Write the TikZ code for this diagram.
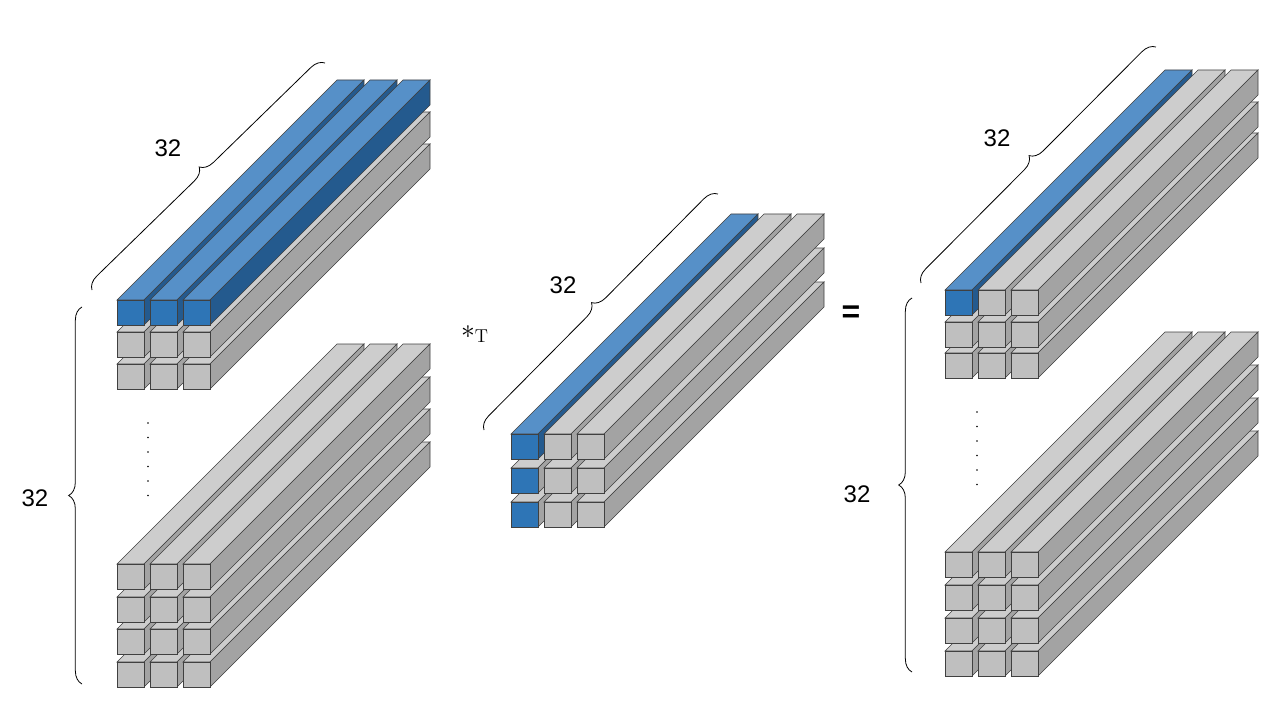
\documentclass[tikz,border=0pt]{standalone}
\usepackage{fontspec}
\setsansfont{Liberation Sans}
\usetikzlibrary{decorations.pathreplacing}
\definecolor{bf}{HTML}{2E75B6}
\definecolor{bt}{HTML}{5690C8}
\definecolor{bs}{HTML}{245A8E}
\definecolor{gf}{HTML}{BFBFBF}
\definecolor{gt}{HTML}{CDCDCD}
\definecolor{gs}{HTML}{A3A3A3}
\newcommand\onebar[5]{%
 \filldraw[fill=#4] (#1,#2) -- ++(220,-220) -- ++(27,0) -- ++(-220,220) -- cycle;
 \filldraw[fill=#5] (#1+27,#2) -- ++(220,-220) -- ++(0,25) -- ++(-220,220) -- cycle;
 \filldraw[fill=#3] (#1,#2) rectangle ++(27,25);}
\newcommand\grow[4]{% y x1 x2 x3 grey row
 \onebar{#2}{#1}{gf}{gt}{gs}\onebar{#3}{#1}{gf}{gt}{gs}\onebar{#4}{#1}{gf}{gt}{gs}}
\begin{document}
\begin{tikzpicture}[x=0.75pt,y=-0.75pt,line width=0.5pt,draw=black!75,
  brc/.style={draw=black,line width=0.6pt,decorate,decoration={brace,amplitude=10pt}},
  lbl/.style={font=\sffamily\fontsize{18}{20}\selectfont,text=black}]
\useasboundingbox (0,0) rectangle (1280,720);
% left block bottom group
\grow{662}{117}{150}{183}\grow{629}{117}{150}{183}\grow{597}{117}{150}{183}\grow{564}{117}{150}{183}
% left block top group
\grow{364}{117}{150}{183}\grow{332}{117}{150}{183}
\onebar{117}{300}{bf}{bt}{bs}\onebar{150}{300}{bf}{bt}{bs}\onebar{183}{300}{bf}{bt}{bs}
% middle
\onebar{511}{502}{bf}{gt}{gs}\onebar{544}{502}{gf}{gt}{gs}\onebar{577}{502}{gf}{gt}{gs}
\onebar{511}{468}{bf}{gt}{gs}\onebar{544}{468}{gf}{gt}{gs}\onebar{577}{468}{gf}{gt}{gs}
\onebar{511}{434}{bf}{bt}{bs}\onebar{544}{434}{gf}{gt}{gs}\onebar{577}{434}{gf}{gt}{gs}
% right bottom group
\grow{651}{945}{978}{1011}\grow{618}{945}{978}{1011}\grow{585}{945}{978}{1011}\grow{552}{945}{978}{1011}
% right top group
\grow{353}{945}{978}{1011}\grow{322}{945}{978}{1011}
\onebar{945}{290}{bf}{bt}{bs}\onebar{978}{290}{gf}{gt}{gs}\onebar{1011}{290}{gf}{gt}{gs}
% braces
\coordinate (a1) at (92,290); \coordinate (a2) at (325,63);
\coordinate (b1) at (82,684); \coordinate (b2) at (82,307);
\coordinate (c1) at (484,430); \coordinate (c2) at (718,194);
\coordinate (d1) at (921,283); \coordinate (d2) at (1156,47);
\coordinate (e1) at (912,672); \coordinate (e2) at (912,298);
\draw[brc] (a1) -- (a2);
\draw[brc] (b1) -- (b2);
\draw[brc] (c1) -- (c2);
\draw[brc] (d1) -- (d2);
\draw[brc] (e1) -- (e2);
\node[lbl] (la) at (168,148) {32};
\node[lbl] (lb) at (35,498) {32};
\node[lbl] (lc) at (563,285) {32};
\node[lbl] (ld) at (997,138) {32};
\node[lbl] (le) at (857,494) {32};
\node[font=\fontsize{20}{22}\selectfont] (op) at (475,334) {$*_{\mathrm{T}}$};
\node[font=\sffamily\bfseries\fontsize{24}{26}\selectfont] (eq) at (851,314) {=};
\foreach \i in {0,...,5} {
  \fill (148,423+\i*14.5) circle (0.9);
  \fill (977,412+\i*14.5) circle (0.9);
}
\end{tikzpicture}
\end{document}
